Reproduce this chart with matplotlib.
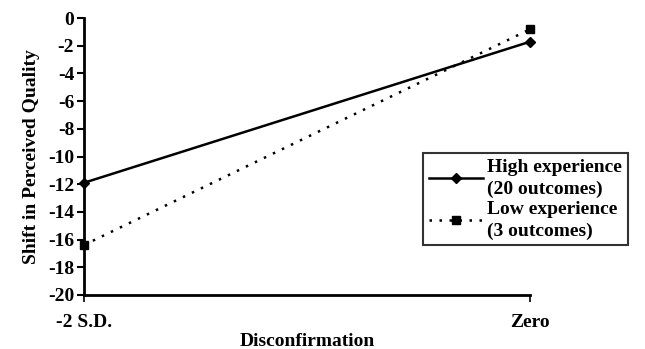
import matplotlib.pyplot as plt
from matplotlib.lines import Line2D

plt.rcParams['font.family'] = ['Liberation Serif', 'DejaVu Serif']
plt.rcParams['font.weight'] = 'bold'

categories = ['-2 S.D.', 'Zero']
high_exp = [-11.9, -1.7]
low_exp = [-16.4, -0.8]
yticks = list(range(0, -21, -2))

fig = plt.figure(figsize=(6.45, 3.49), dpi=100)
ax = fig.add_axes([0.130, 0.155, 0.692, 0.793])

x = range(len(categories))
ax.plot(x, high_exp, color='black', lw=1.8, marker='D', ms=5.5, clip_on=False)
ax.plot(x, low_exp, color='black', lw=1.8, ls=(0, (1, 3)), marker='s', ms=5.5, clip_on=False)

ax.set_xlim(0, 1)
ax.set_ylim(-20, 0)
ax.set_yticks(yticks)
ax.set_yticklabels([str(v) for v in yticks], fontsize=14, fontweight='bold')
ax.set_xticks(list(x))
ax.set_xticklabels(categories, fontsize=14, fontweight='bold')
ax.tick_params(axis='y', direction='out', length=5, width=1.5, pad=2)
ax.tick_params(axis='x', direction='out', length=5, width=1.2, pad=9)

for s in ['top', 'right']:
    ax.spines[s].set_visible(False)
ax.spines['left'].set_linewidth(2)
ax.spines['bottom'].set_linewidth(2)

ax.set_ylabel('Shift in Perceived Quality', fontsize=14, fontweight='bold', labelpad=6)
ax.set_xlabel('Disconfirmation', fontsize=14, fontweight='bold', labelpad=1)

handles = [
    Line2D([], [], color='black', lw=1.8, marker='D', ms=5.5),
    Line2D([], [], color='black', lw=1.8, ls=(0, (1, 3)), marker='s', ms=5.5),
]
labels = ['High experience\n(20 outcomes)', 'Low experience\n(3 outcomes)']
leg = fig.legend(handles, labels, loc='upper left', bbox_to_anchor=(0.656, 0.562),
                 frameon=True, fancybox=False, edgecolor='black',
                 handlelength=2.8, handletextpad=0.2, borderpad=0.3, labelspacing=0.15,
                 borderaxespad=0, prop={'weight': 'bold', 'size': 14})
for t in leg.get_texts():
    t.set_linespacing(1.35)
leg.get_frame().set_linewidth(1.5)

fig.savefig('out.png', dpi=100)
